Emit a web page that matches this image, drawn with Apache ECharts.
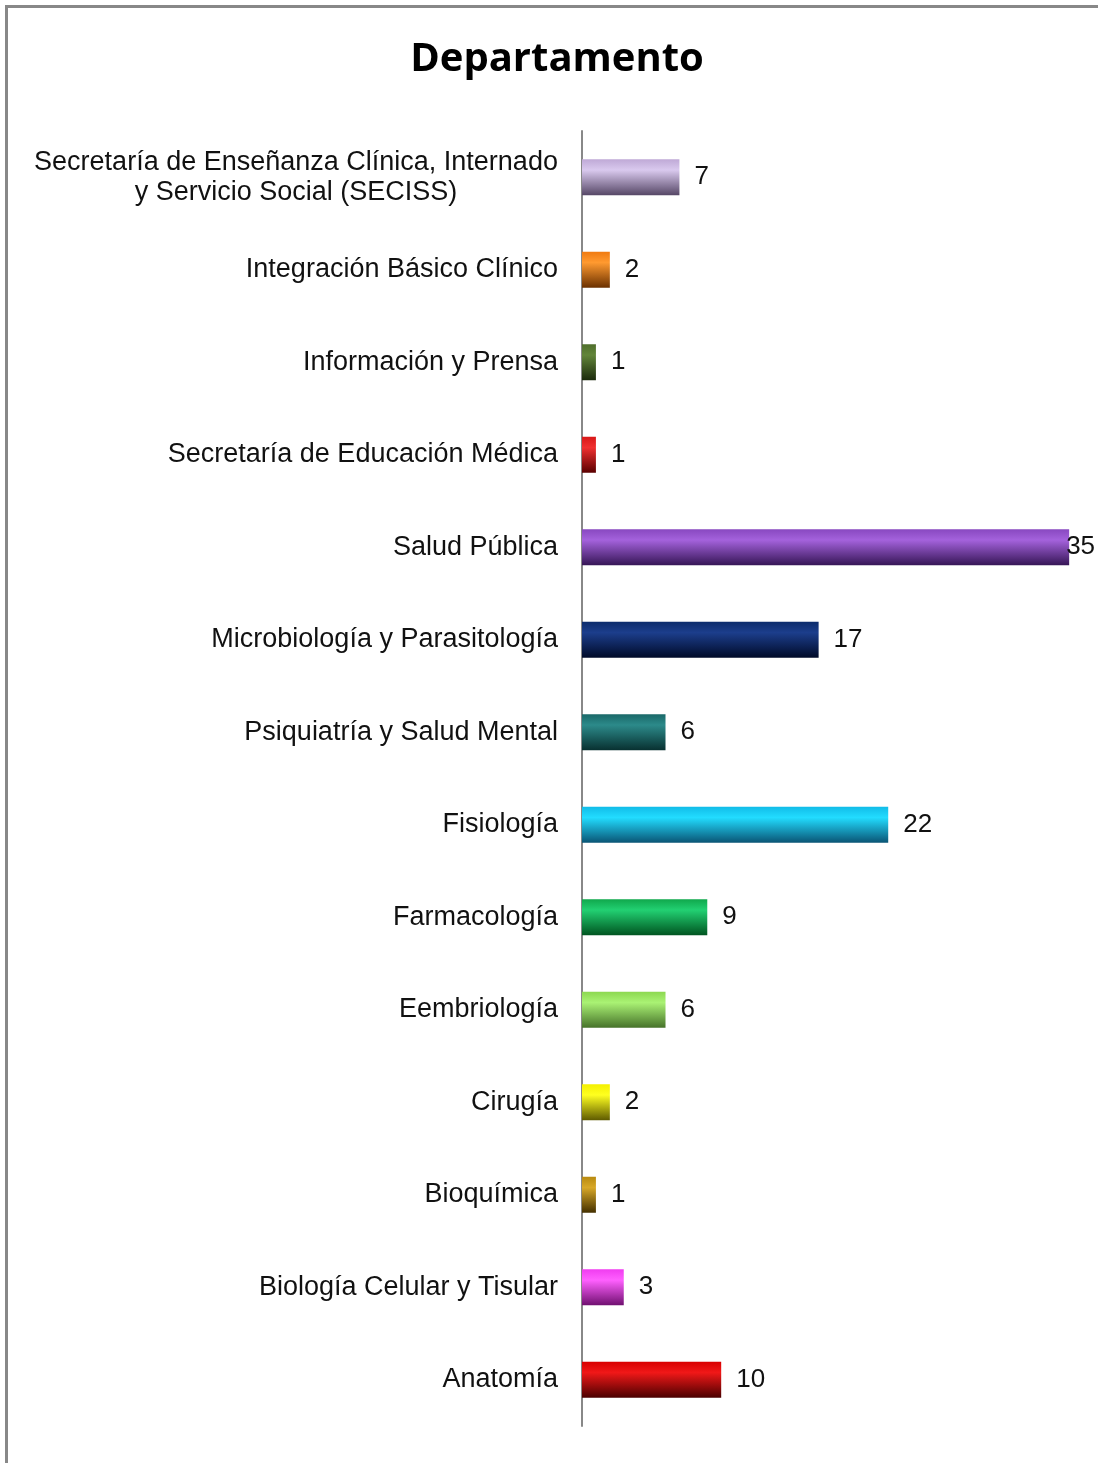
<!DOCTYPE html>
<html>
<head>
<meta charset="utf-8">
<script src="https://cdn.jsdelivr.net/npm/echarts@6/dist/echarts.min.js"></script>
<style>
  html, body { margin: 0; padding: 0; background: #fff; }
  #chart { width: 1098px; height: 1463px; }
</style>
</head>
<body>
<div id="chart"></div>
<script>
// categories top to bottom
const departamentos = [
  "Secretaría de Enseñanza Clínica, Internado\ny Servicio Social (SECISS)",
  "Integración Básico Clínico",
  "Información y Prensa",
  "Secretaría de Educación Médica",
  "Salud Pública",
  "Microbiología y Parasitología",
  "Psiquiatría y Salud Mental",
  "Fisiología",
  "Farmacología",
  "Eembriología",
  "Cirugía",
  "Bioquímica",
  "Biología Celular y Tisular",
  "Anatomía"
];
const cantidades = [7, 2, 1, 1, 35, 17, 6, 22, 9, 6, 2, 1, 3, 10];

// bar colours: [top, highlight, bottom]
const colores = [
  ["#bfa9d6", "#d9c9ee", "#564766"],
  ["#f07a10", "#ff9a30", "#6a3000"],
  ["#4f6e2c", "#62853a", "#1b2a0c"],
  ["#d81818", "#f03030", "#5a0000"],
  ["#8848c0", "#a462dc", "#361656"],
  ["#0c2c6c", "#1c3e8c", "#000a28"],
  ["#1a6868", "#2c8a8a", "#083030"],
  ["#12bce8", "#22dcff", "#0a5474"],
  ["#10a84c", "#22d072", "#005420"],
  ["#8cd850", "#aaf274", "#46722a"],
  ["#f4f000", "#ffff20", "#5e5a00"],
  ["#b88a10", "#d8a828", "#443000"],
  ["#f03cf0", "#ff60ff", "#701070"],
  ["#d80000", "#f01818", "#4a0000"]
];

const chart = echarts.init(document.getElementById("chart"));

const labelFont = 'Liberation Sans, Arial, sans-serif';

const option = {
  backgroundColor: "#fff",
  animation: false,
  title: {
    text: "Departamento",
    left: 552,
    textAlign: "center",
    top: 35,
    textStyle: {
      fontFamily: "Open Sans, Noto Sans, sans-serif",
      fontWeight: "bold",
      fontSize: 40,
      color: "#000"
    }
  },
  graphic: [
    {
      type: "polyline",
      shape: { points: [[6.5, 1463], [6.5, 6.5], [1098, 6.5]] },
      style: { stroke: "#888", lineWidth: 3, fill: null },
      z: 100
    }
  ],
  grid: {
    left: 582,
    top: 131,
    width: 515,
    height: 1295,
    containLabel: false
  },
  xAxis: {
    type: "value",
    min: 0,
    max: 37,
    show: false
  },
  yAxis: {
    type: "category",
    inverse: true,
    data: departamentos,
    axisLine: { show: true, lineStyle: { color: "#888", width: 2 } },
    axisTick: { show: false },
    axisLabel: {
      margin: 24,
      fontFamily: labelFont,
      fontSize: 27,
      color: "#111",
      lineHeight: 30,
      formatter: function (v) {
        if (v.indexOf("\n") >= 0) {
          return v.split("\n").map(function (l) { return "{c|" + l + "}"; }).join("\n");
        }
        return v;
      },
      rich: {
        c: {
          width: 524,
          align: "center",
          fontFamily: labelFont,
          fontSize: 27,
          color: "#111",
          lineHeight: 30
        }
      }
    }
  },
  series: [
    {
      type: "bar",
      barWidth: 36,
      data: cantidades.map(function (v, i) {
        const c = colores[i];
        const item = {
          value: v,
          itemStyle: {
            color: new echarts.graphic.LinearGradient(0, 0, 0, 1, [
              { offset: 0, color: c[0] },
              { offset: 0.3, color: c[1] },
              { offset: 1, color: c[2] }
            ])
          }
        };
        if (v === 35) item.label = { distance: -3 };
        return item;
      }),
      label: {
        show: true,
        position: "right",
        distance: 15,
        fontFamily: labelFont,
        fontSize: 26,
        color: "#111"
      }
    }
  ]
};

chart.setOption(option);
</script>
</body>
</html>
